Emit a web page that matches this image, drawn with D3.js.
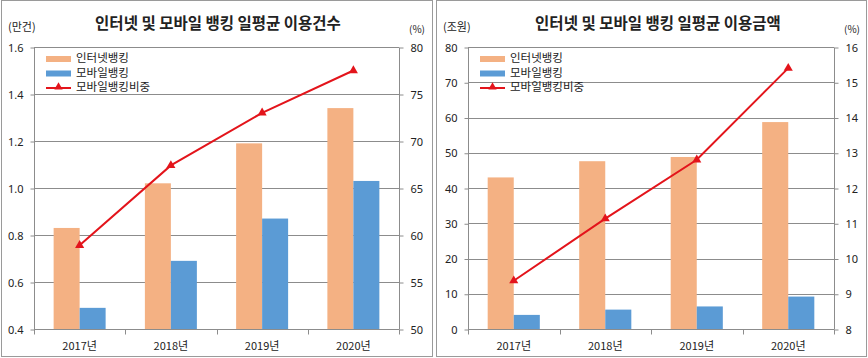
<!DOCTYPE html>
<html>
<head>
<meta charset="utf-8">
<script src="https://cdn.jsdelivr.net/npm/d3@7/dist/d3.min.js"></script>
<style>
  html, body { margin: 0; padding: 0; background: #fff; }
  svg { display: block; }
  text { font-family: "Noto Sans CJK KR", "Noto Sans", sans-serif; fill: #222; }
</style>
</head>
<body>
<svg id="chart" width="868" height="358"></svg>
<script>
// ---------- data ----------
const years = ["2017년", "2018년", "2019년", "2020년"];
const seriesNames = ["인터넷뱅킹", "모바일뱅킹", "모바일뱅킹비중"];

// 일평균 이용건수 (만건) / 비중 (%)
const countInternet = [0.83, 1.02, 1.19, 1.34];
const countMobile   = [0.49, 0.69, 0.87, 1.03];
const countShare    = [58.9, 67.4, 73.0, 77.5];
const countTicksLeft  = [0.4, 0.6, 0.8, 1.0, 1.2, 1.4, 1.6];
const countTicksRight = [50, 55, 60, 65, 70, 75, 80];

// 일평균 이용금액 (조원) / 비중 (%)
const amountInternet = [43.0, 47.6, 48.8, 58.7];
const amountMobile   = [4.0, 5.5, 6.4, 9.2];
const amountShare    = [9.37, 11.13, 12.80, 15.40];
const amountTicksLeft  = [0, 10, 20, 30, 40, 50, 60, 70, 80];
const amountTicksRight = [8, 9, 10, 11, 12, 13, 14, 15, 16];

// ---------- style ----------
const COLOR_INTERNET = "#F4B183";
const COLOR_MOBILE = "#5B9BD5";
const COLOR_LINE = "#E3141B";
const GRID = "#8c8c8c";

const svg = d3.select("#chart");

function drawPanel(opt) {
  const g = svg.append("g");
  // panel border
  g.append("rect")
    .attr("x", opt.box[0] + 0.5).attr("y", 0.5)
    .attr("width", opt.box[1] - opt.box[0]).attr("height", 356)
    .attr("fill", "#fff").attr("stroke", "#9a9a9a").attr("stroke-width", 1);

  const x0 = opt.plot[0], x1 = opt.plot[1], yTop = 47, yBot = 329;

  const x = d3.scaleBand().domain(years).range([x0, x1]).padding(0);
  const xs = d3.scaleBand().domain(["i", "m"]).range([0, x.bandwidth()])
    .paddingInner(0).paddingOuter(0.755);
  const tl = opt.ticksLeft, tr = opt.ticksRight;
  const yL = d3.scaleLinear().domain([tl[0], tl[tl.length - 1]]).range([yBot, yTop]);
  const yR = d3.scaleLinear().domain([tr[0], tr[tr.length - 1]]).range([yBot, yTop]);

  // gridlines
  g.append("g").selectAll("line").data(tl).join("line")
    .attr("x1", x0).attr("x2", x1)
    .attr("y1", d => Math.round(yL(d)) + 0.5).attr("y2", d => Math.round(yL(d)) + 0.5)
    .attr("stroke", GRID).attr("stroke-width", 1);

  // left axis
  const axL = g.append("g").attr("transform", `translate(${x0 + 0.5},0.5)`)
    .call(d3.axisLeft(yL).tickValues(tl).tickFormat(opt.fmtLeft).tickSize(4).tickPadding(7));
  // right axis
  const axR = g.append("g").attr("transform", `translate(${x1 + 0.5},0.5)`)
    .call(d3.axisRight(yR).tickValues(tr).tickFormat(d3.format("d")).tickSize(4).tickPadding(7));
  [axL, axR].forEach(a => {
    a.select(".domain").attr("stroke", GRID).attr("d", null);
    a.selectAll(".domain").remove();
    a.selectAll(".tick line").attr("stroke", GRID);
    a.selectAll(".tick text").style("font-size", "11px").attr("fill", "#222")
      .style("font-family", '"Noto Sans", "Noto Sans CJK KR", sans-serif');
    a.append("line").attr("x1", 0).attr("x2", 0)
      .attr("y1", Math.round(yTop)).attr("y2", Math.round(yBot)).attr("stroke", GRID);
  });

  // bars
  g.append("g").selectAll("rect").data(years).join("rect")
    .attr("x", d => x(d) + xs("i"))
    .attr("width", xs.bandwidth())
    .attr("y", (d, i) => yL(opt.internet[i]))
    .attr("height", (d, i) => yBot - yL(opt.internet[i]))
    .attr("fill", COLOR_INTERNET);
  g.append("g").selectAll("rect").data(years).join("rect")
    .attr("x", d => x(d) + xs("m"))
    .attr("width", xs.bandwidth())
    .attr("y", (d, i) => yL(opt.mobile[i]))
    .attr("height", (d, i) => yBot - yL(opt.mobile[i]))
    .attr("fill", COLOR_MOBILE);

  // bottom axis
  const axB = g.append("g").attr("transform", `translate(0,${yBot + 0.5})`);
  axB.append("line").attr("x1", x0).attr("x2", x1).attr("stroke", GRID);
  const bounds = years.map(d => x(d)).concat([x1]);
  axB.selectAll("line.tk").data(bounds).join("line").attr("class", "tk")
    .attr("x1", d => Math.round(d) + 0.5).attr("x2", d => Math.round(d) + 0.5)
    .attr("y1", 0).attr("y2", 5).attr("stroke", GRID);
  axB.selectAll("text").data(years).join("text")
    .attr("x", d => x(d) + x.bandwidth() / 2)
    .attr("y", 17.5)
    .attr("dominant-baseline", "middle")
    .attr("text-anchor", "middle")
    .style("font-size", "11px")
    .text(d => d);

  // line
  const pts = years.map((d, i) => [x(d) + x.bandwidth() / 2, yR(opt.share[i])]);
  g.append("path").datum(pts)
    .attr("d", d3.line())
    .attr("fill", "none").attr("stroke", COLOR_LINE).attr("stroke-width", 2);
  const tri = d3.symbol(d3.symbolTriangle, 36);
  g.append("g").selectAll("path").data(pts).join("path")
    .attr("d", tri)
    .attr("transform", d => `translate(${d[0]},${d[1]})`)
    .attr("fill", COLOR_LINE);

  // title
  g.append("text")
    .attr("x", opt.titleX).attr("y", 25)
    .attr("text-anchor", "middle").attr("dominant-baseline", "middle")
    .style("font-size", "15.5px").style("font-weight", "bold")
    .text(opt.title);
  // unit labels
  g.append("text").attr("x", opt.unitLX).attr("y", 28.5)
    .attr("dominant-baseline", "middle").style("font-size", "11px").text(opt.unitLeft);
  g.append("text").attr("x", opt.unitRX).attr("y", 30)
    .attr("dominant-baseline", "middle").style("font-size", "10px").text("(%)");

  // legend
  const lx = x0 + 12;
  const leg = g.append("g");
  const rows = [59, 73.5, 88];
  leg.append("rect").attr("x", lx).attr("y", rows[0] - 3).attr("width", 25).attr("height", 6)
    .attr("fill", COLOR_INTERNET);
  leg.append("rect").attr("x", lx).attr("y", rows[1] - 3).attr("width", 25).attr("height", 6)
    .attr("fill", COLOR_MOBILE);
  leg.append("line").attr("x1", lx).attr("x2", lx + 25).attr("y1", rows[2]).attr("y2", rows[2])
    .attr("stroke", COLOR_LINE).attr("stroke-width", 2);
  leg.append("path").attr("d", d3.symbol(d3.symbolTriangle, 30))
    .attr("transform", `translate(${lx + 12.5},${rows[2] - 1})`).attr("fill", COLOR_LINE);
  leg.selectAll("text").data(seriesNames).join("text")
    .attr("x", lx + 30).attr("y", (d, i) => rows[i])
    .attr("dominant-baseline", "middle")
    .style("font-size", "11.5px")
    .text(d => d);
}

drawPanel({
  box: [1, 432], plot: [34, 399],
  internet: countInternet, mobile: countMobile, share: countShare,
  ticksLeft: countTicksLeft, ticksRight: countTicksRight,
  fmtLeft: d3.format(".1f"),
  title: "인터넷 및 모바일 뱅킹 일평균 이용건수", titleX: 218,
  unitLeft: "(만건)", unitLX: 8, unitRX: 409
});
drawPanel({
  box: [436, 866], plot: [468, 834],
  internet: amountInternet, mobile: amountMobile, share: amountShare,
  ticksLeft: amountTicksLeft, ticksRight: amountTicksRight,
  fmtLeft: d3.format("d"),
  title: "인터넷 및 모바일 뱅킹 일평균 이용금액", titleX: 658,
  unitLeft: "(조원)", unitLX: 443, unitRX: 844
});
</script>
</body>
</html>
